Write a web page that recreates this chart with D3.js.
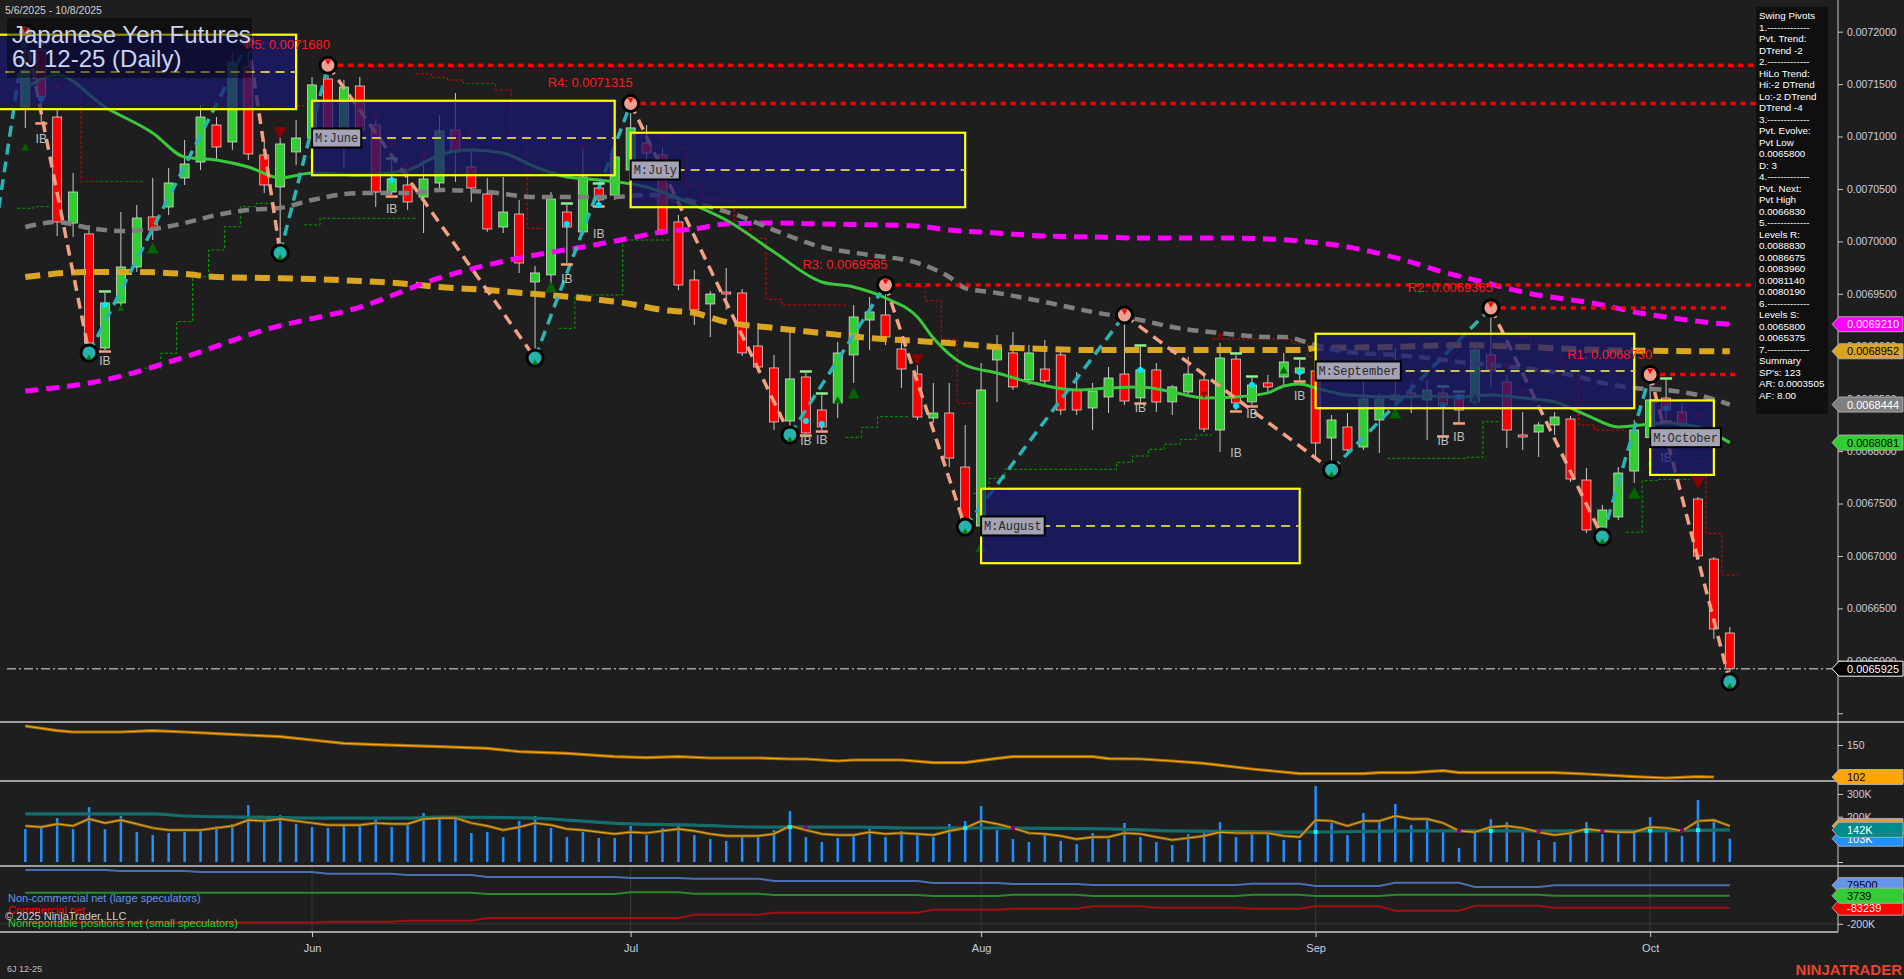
<!DOCTYPE html>
<html><head><meta charset="utf-8">
<script src="https://cdn.jsdelivr.net/npm/d3@7"></script>
<style>
html,body{margin:0;padding:0;background:#1e1e1e;overflow:hidden}
svg{display:block}
</style></head><body>
<svg id="chart" width="1904" height="979"></svg>
<script>
// ---------------- DATA ----------------
const dates = ['2025-05-06','2025-05-07','2025-05-08','2025-05-09',
'2025-05-12','2025-05-13','2025-05-14','2025-05-15','2025-05-16',
'2025-05-19','2025-05-20','2025-05-21','2025-05-22','2025-05-23',
'2025-05-27','2025-05-28','2025-05-29','2025-05-30',
'2025-06-02','2025-06-03','2025-06-04','2025-06-05','2025-06-06',
'2025-06-09','2025-06-10','2025-06-11','2025-06-12','2025-06-13',
'2025-06-16','2025-06-17','2025-06-18','2025-06-20',
'2025-06-23','2025-06-24','2025-06-25','2025-06-26','2025-06-27','2025-06-30',
'2025-07-01','2025-07-02','2025-07-03',
'2025-07-07','2025-07-08','2025-07-09','2025-07-10','2025-07-11',
'2025-07-14','2025-07-15','2025-07-16','2025-07-17','2025-07-18',
'2025-07-21','2025-07-22','2025-07-23','2025-07-24','2025-07-25',
'2025-07-28','2025-07-29','2025-07-30','2025-07-31',
'2025-08-01','2025-08-04','2025-08-05','2025-08-06','2025-08-07','2025-08-08',
'2025-08-11','2025-08-12','2025-08-13','2025-08-14','2025-08-15',
'2025-08-18','2025-08-19','2025-08-20','2025-08-21','2025-08-22',
'2025-08-25','2025-08-26','2025-08-27','2025-08-28','2025-08-29',
'2025-09-02','2025-09-03','2025-09-04','2025-09-05',
'2025-09-08','2025-09-09','2025-09-10','2025-09-11','2025-09-12',
'2025-09-15','2025-09-16','2025-09-17','2025-09-18','2025-09-19',
'2025-09-22','2025-09-23','2025-09-24','2025-09-25','2025-09-26',
'2025-09-29','2025-09-30',
'2025-10-01','2025-10-02','2025-10-03','2025-10-06','2025-10-07','2025-10-08'];

const opens = [0.0071282,0.0071825,0.0071186,0.0070175,0.0070071,0.0068983,0.0069413,0.0069756,0.0070233,0.0070328,
0.0070605,0.0070757,0.0071110,0.0070948,0.0071663,0.0070824,0.0070519,0.0070853,0.0070986,0.0071549,
0.0070996,0.0071482,0.0071110,0.0070471,0.0070538,0.0070423,0.0070557,0.0071062,0.0070710,0.0070452,
0.0070137,0.0070261,0.0069613,0.0069680,0.0070280,0.0070090,0.0070509,0.0070442,0.0070681,0.0070938,
0.0070824,0.0070185,0.0069632,0.0069403,0.0069517,0.0069508,0.0069002,0.0068793,0.0068287,0.0068707,
0.0068392,0.0068459,0.0068917,0.0069250,0.0069298,0.0068974,0.0068735,0.0068316,0.0068363,0.0067848,
0.0067286,0.0068869,0.0068936,0.0068679,0.0068783,0.0068917,0.0068583,0.0068411,0.0068516,0.0068735,
0.0068507,0.0068774,0.0068469,0.0068564,0.0068678,0.0068201,0.0068878,0.0068469,0.0068650,0.0068707,
0.0068745,0.0068764,0.0068125,0.0068230,0.0068039,0.0068297,0.0068488,0.0068554,0.0068488,0.0068554,
0.0068535,0.0068469,0.0068917,0.0068659,0.0068154,0.0068182,0.0068249,0.0068306,0.0067724,0.0067276,
0.0067372,0.0067810,0.0068128,0.0068506,0.0068373,0.0067543,0.0066971,0.0066265];

const highs = [0.0071987,0.0071873,0.0071272,0.0070652,0.0070157,0.0069508,0.0070280,0.0070347,0.0070605,0.0070700,
0.0070967,0.0071301,0.0071186,0.0071806,0.0071902,0.0070967,0.0071034,0.0071158,0.0071568,0.0071680,
0.0071539,0.0071568,0.0071186,0.0070776,0.0070681,0.0070776,0.0071205,0.0071415,0.0070872,0.0070605,
0.0070614,0.0070395,0.0069766,0.0070471,0.0070347,0.0070900,0.0070538,0.0070967,0.0071315,0.0071110,
0.0070891,0.0070252,0.0069727,0.0069527,0.0069746,0.0069546,0.0069222,0.0068917,0.0069155,0.0068745,
0.0068535,0.0069041,0.0069393,0.0069470,0.0069585,0.0069060,0.0068821,0.0068650,0.0068650,0.0068249,
0.0068840,0.0069107,0.0069136,0.0069012,0.0069060,0.0068993,0.0068755,0.0068650,0.0068802,0.0069298,
0.0068993,0.0068840,0.0068630,0.0068898,0.0068726,0.0069031,0.0068917,0.0068697,0.0068726,0.0068936,
0.0068869,0.0068850,0.0068344,0.0068363,0.0068678,0.0068554,0.0068984,0.0068650,0.0068678,0.0068602,
0.0068554,0.0068984,0.0069365,0.0068726,0.0068373,0.0068278,0.0068373,0.0068335,0.0067839,0.0067486,
0.0067848,0.0068297,0.0068730,0.0068678,0.0068459,0.0067562,0.0066990,0.0066323];

const lows = [0.0071081,0.0071139,0.0070051,0.0070042,0.0068936,0.0068964,0.0069346,0.0069708,0.0070013,0.0070252,
0.0070538,0.0070681,0.0070776,0.0070872,0.0070776,0.0070461,0.0069889,0.0070729,0.0070919,0.0070872,
0.0070700,0.0070967,0.0070328,0.0070442,0.0070300,0.0070080,0.0070509,0.0070567,0.0070376,0.0070090,
0.0070080,0.0069699,0.0068888,0.0069584,0.0069794,0.0070061,0.0070347,0.0070395,0.0070640,0.0070776,
0.0070061,0.0069536,0.0069203,0.0069088,0.0069346,0.0068907,0.0068755,0.0068201,0.0068154,0.0068163,
0.0068201,0.0068316,0.0068650,0.0068964,0.0069012,0.0068602,0.0068297,0.0068268,0.0067848,0.0067276,
0.0067280,0.0068468,0.0068583,0.0068631,0.0068631,0.0068344,0.0068344,0.0068201,0.0068363,0.0068440,
0.0068468,0.0068373,0.0068344,0.0068535,0.0068182,0.0067991,0.0068392,0.0068440,0.0068564,0.0068631,
0.0068678,0.0067915,0.0067820,0.0067963,0.0068011,0.0067982,0.0068440,0.0068363,0.0068106,0.0068154,
0.0068278,0.0068440,0.0068612,0.0068030,0.0068011,0.0067944,0.0068154,0.0067705,0.0067219,0.0067181,
0.0067343,0.0067696,0.0068100,0.0068297,0.0068134,0.0066962,0.0066208,0.0065800];

const closes = [0.0071635,0.0071377,0.0070185,0.0070471,0.0069031,0.0069413,0.0069756,0.0070223,0.0070108,0.0070557,
0.0070738,0.0071186,0.0070900,0.0071711,0.0070834,0.0070538,0.0070929,0.0070986,0.0071492,0.0070938,
0.0071472,0.0071062,0.0070471,0.0070595,0.0070376,0.0070595,0.0071053,0.0070853,0.0070509,0.0070118,
0.0070280,0.0069794,0.0069699,0.0070404,0.0070137,0.0070614,0.0070395,0.0070805,0.0071082,0.0070843,
0.0070108,0.0069584,0.0069346,0.0069498,0.0069498,0.0068936,0.0068802,0.0068278,0.0068688,0.0068173,
0.0068230,0.0068936,0.0069279,0.0069327,0.0069088,0.0068783,0.0068325,0.0068363,0.0067934,0.0067314,
0.0068583,0.0068993,0.0068612,0.0068936,0.0068669,0.0068392,0.0068392,0.0068573,0.0068697,0.0068478,
0.0068774,0.0068468,0.0068612,0.0068735,0.0068211,0.0068888,0.0068459,0.0068630,0.0068612,0.0068850,
0.0068793,0.0068077,0.0068297,0.0068011,0.0068497,0.0068497,0.0068535,0.0068516,0.0068583,0.0068440,
0.0068392,0.0068964,0.0068774,0.0068201,0.0068135,0.0068249,0.0068325,0.0067734,0.0067248,0.0067438,
0.0067791,0.0068201,0.0068488,0.0068392,0.0068249,0.0067000,0.0066304,0.0065925];

// moving averages: [bar index, price]
const maGreen = [[0,0.0071463],[2,0.0071587],[5,0.0071282],[8,0.0071034],[10,0.0070805],[12,0.0070776],[14,0.0070710],[16,0.0070605],[18,0.0070652],[21,0.0070633],[24,0.0070681],[26,0.0070824],[28,0.0070872],[30,0.0070843],[32,0.0070710],[34,0.0070614],[36,0.0070586],[39,0.0070519],[42,0.0070347],[44,0.0070204],[47,0.0069899],[50,0.0069613],[52,0.0069565],[54,0.0069460],[56,0.0069279],[57,0.0069079],[59,0.0068821],[61,0.0068745],[63,0.0068659],[66,0.0068583],[68,0.0068602],[70,0.0068612],[72,0.0068564],[74,0.0068507],[76,0.0068517],[78,0.0068555],[79,0.0068621],[80,0.0068640],[81,0.0068602],[83,0.0068535],[86,0.0068517],[88,0.0068526],[90,0.0068517],[92,0.0068535],[94,0.0068507],[96,0.0068469],[98,0.0068344],[100,0.0068230],[102,0.0068259],[103,0.0068269],[105,0.0068230],[107,0.0068081]];
const maGray = [[0,0.0070137],[2,0.0070185],[4,0.0070128],[6,0.0070099],[8,0.0070118],[10,0.0070175],[12,0.0070252],[14,0.0070300],[16,0.0070319],[18,0.0070395],[21,0.0070461],[24,0.0070461],[26,0.0070490],[29,0.0070471],[32,0.0070423],[35,0.0070423],[37,0.0070423],[39,0.0070442],[41,0.0070414],[43,0.0070328],[45,0.0070233],[47,0.0070108],[50,0.0069946],[53,0.0069870],[56,0.0069794],[58,0.0069660],[59,0.0069555],[61,0.0069508],[64,0.0069422],[67,0.0069327],[70,0.0069250],[72,0.0069183],[75,0.0069126],[78,0.0069088],[79,0.0069088],[81,0.0069012],[83,0.0068945],[86,0.0068917],[88,0.0068888],[90,0.0068850],[92,0.0068821],[94,0.0068792],[97,0.0068726],[99,0.0068650],[101,0.0068602],[103,0.0068583],[105,0.0068535],[107,0.0068444]];
const maGold = [[0,0.0069660],[4,0.0069708],[7,0.0069708],[10,0.0069689],[12,0.0069660],[15,0.0069651],[18,0.0069641],[21,0.0069622],[24,0.0069594],[26,0.0069565],[29,0.0069536],[32,0.0069498],[35,0.0069460],[38,0.0069403],[40,0.0069346],[42,0.0069317],[44,0.0069231],[47,0.0069174],[50,0.0069126],[53,0.0069079],[56,0.0069050],[58,0.0069031],[61,0.0068993],[64,0.0068974],[67,0.0068964],[72,0.0068964],[80,0.0068964],[81,0.0068983],[86,0.0068993],[90,0.0069012],[94,0.0068993],[99,0.0068964],[103,0.0068955],[107,0.0068952]];
const maMagenta = [[0,0.0068573],[5,0.0068678],[10,0.0068897],[15,0.0069155],[21,0.0069374],[26,0.0069651],[29,0.0069775],[32,0.0069870],[35,0.0069946],[38,0.0070032],[40,0.0070090],[42,0.0070118],[44,0.0070166],[47,0.0070175],[50,0.0070166],[56,0.0070147],[58,0.0070108],[61,0.0070080],[64,0.0070051],[67,0.0070042],[70,0.0070032],[75,0.0070032],[78,0.0070023],[80,0.0070004],[84,0.0069918],[87,0.0069803],[89,0.0069708],[91,0.0069632],[94,0.0069517],[99,0.0069393],[101,0.0069327],[103,0.0069279],[106,0.0069222],[107,0.0069210]];

// trailing stop steps: [bar index, price]
const stopRed = [
 [[3,0.0071475],[4,0.0070570],[5,0.0070570],[6,0.0070570],[7,0.0070570]],
 [[16,0.0071294],[17,0.0071294]],
 [[25,0.0071597],[26,0.0071565],[27,0.0071539],[28,0.0071507],[29,0.0071507],[30,0.0071444],[31,0.0071000],[32,0.0070125]],
 [[41,0.0070894],[42,0.0070538],[43,0.0070411],[44,0.0070395],[45,0.0070188],[46,0.0070029],[47,0.0069448],[48,0.0069393],[49,0.0069393],[50,0.0069393],[51,0.0069393]],
 [[56,0.0069568],[57,0.0069434],[58,0.0069069],[59,0.0068456]],
 [[75,0.0069070],[76,0.0069070],[77,0.0069070],[78,0.0069070],[79,0.0069070],[80,0.0069028],[81,0.0068900]],
 [[94,0.0069091],[95,0.0069012],[96,0.0068900],[97,0.0068726],[98,0.0068249],[99,0.0068201],[100,0.0068201]],
 [[105,0.0067899],[106,0.0067216],[107,0.0066818]]
];
const stopGreen = [
 [[0,0.0070316],[1,0.0070331]],
 [[8,0.0068790],[9,0.0068933],[10,0.0069235],[11,0.0069663],[12,0.0069918],[13,0.0070140],[14,0.0070331],[15,0.0070363]],
 [[18,0.0070157],[19,0.0070220],[20,0.0070220],[21,0.0070220],[22,0.0070220],[23,0.0070220],[24,0.0070220]],
 [[34,0.0069171],[35,0.0069489],[36,0.0069489],[37,0.0069489],[38,0.0070013],[39,0.0070013],[40,0.0070013]],
 [[52,0.0068131],[53,0.0068227],[54,0.0068328],[55,0.0068328]],
 [[60,0.0067598],[61,0.0067740],[62,0.0067826],[63,0.0067826],[64,0.0067826],[65,0.0067826],[66,0.0067826],[67,0.0067826],[68,0.0067826],[69,0.0067893],[70,0.0067953],[71,0.0068017],[72,0.0068065],[73,0.0068112],[74,0.0068154]],
 [[86,0.0067931],[87,0.0067931],[88,0.0067931],[89,0.0067931],[90,0.0067931],[91,0.0067941],[92,0.0068280]],
 [[101,0.0067226],[102,0.0067718],[103,0.0067731],[104,0.0067731]]
];

// swing pivots [bar index, price] (alternating low/high)
const pivots = [[-2,0.0069980],[0,0.0071987],[4,0.0068936],[14,0.0071902],[16,0.0069889],[19,0.0071680],[32,0.0068888],[38,0.0071315],[48,0.0068154],[54,0.0069585],[59,0.0067276],[69,0.0069298],[82,0.0067820],[92,0.0069365],[99,0.0067181],[102,0.0068730],[107,0.0065800]];

// resistance levels
const resNames = ['R5','R4','R3','R2','R1'];
const resValues = [0.0071680,0.0071315,0.0069585,0.0069365,0.0068730];
const resFrom = [19,38,54,92,102];
const resTo = [111.4,111.4,111.4,107,107.6];

// monthly boxes
const boxMonths = ['M:May','M:June','M:July','M:August','M:September','M:October'];
const boxStart = [-5,18,38,60,81,102];
const boxEnd = [17,37,59,80,101,106];
const boxHigh = [0.0071971,0.0071341,0.0071036,0.0067641,0.0069119,0.0068483];
const boxMid  = [0.0071616,0.0070986,0.0070681,0.0067286,0.0068764,0.0068128];
const boxLow  = [0.0071261,0.0070631,0.0070326,0.0066931,0.0068409,0.0067773];

// markers: [bar index, price, size]
const sellSignals = [[2,0.0071463,8],[12,0.0071606,7],[16,0.0071034,13],[22,0.0071177,7],[23,0.0070919,7],[24,0.0070710,9],[25,0.0070805,9],[28,0.0071034,7],[35,0.0070891,7],[40,0.0070986,7],[56,0.0068869,13],[74,0.0068535,7],[75,0.0069088,7],[93,0.0068802,8],[94,0.0068564,7],[105,0.0068325,7],[105,0.0067696,14]];
const buySignals = [[0,0.0070900,8],[6,0.0069365,7],[8,0.0069937,12],[18,0.0070824,7],[33,0.0069565,12],[51,0.0068488,8],[52,0.0068554,12],[60,0.0067086,12],[79,0.0068774,8],[86,0.0068363,12],[91,0.0068507,8],[101,0.0067601,13],[102,0.0067896,7]];
const insideBars = [[1,0.0070986],[5,0.0068869],[23,0.0070318],[34,0.0069651],[36,0.0070080],[49,0.0068106],[50,0.0068115],[70,0.0068421],[76,0.0067991],[77,0.0068363],[80,0.0068535],[89,0.0068106],[90,0.0068144],[103,0.0067944]];
const insideDots = [[1,0.0071358],[5,0.0069393],[23,0.0070586],[34,0.0070166],[36,0.0070347],[49,0.0068287],[50,0.0068258],[70,0.0068774],[76,0.0068430],[77,0.0068630],[80,0.0068755],[89,0.0068440],[90,0.0068516],[103,0.0068411]];

const lastPrice = 0.0065925;
const priceTickValues = [0.0072,0.00715,0.0071,0.00705,0.007,0.00695,0.0069,0.00685,0.0068,0.00675,0.0067,0.00665,0.0066];

// panel 2 (trend strength line)
const strength = [[0,178.5],[2,171.5],[3,169.5],[6,169.5],[8,171.5],[10,169.5],[13,166],[16,162.5],[18,157.5],[20,152.5],[22,150.5],[26,147.5],[29,145],[31,140],[34,137.5],[37,132.5],[39,131],[41,132.5],[43,130.5],[46,130.5],[48,129],[49,129],[51,126],[52,127.5],[55,127.5],[57,123.5],[59,123.5],[61,130],[62,132.5],[67,132.5],[68,129.5],[70,129],[72,126],[74,122.5],[77,114],[80,107],[84,107],[85,108.5],[87,108.5],[89,111.5],[90,108.5],[96,108.5],[98,106.5],[101,102.5],[103,100.5],[105,102.5],[106,102]];

// panel 3 volume (thousands of contracts)
const volume = [145,156,194,145,242,145,203,132,119,128,132,141,159,168,251,178,207,168,154,150,
163,163,198,154,168,216,203,198,128,132,110,181,203,150,110,132,106,106,159,119,
150,159,119,101,93,115,115,141,225,110,88,106,123,159,110,137,119,110,168,181,
247,141,101,88,119,93,79,128,101,172,110,88,75,123,128,176,110,132,128,97,97,335,
172,119,216,181,256,163,185,132,62,128,189,176,132,97,88,145,176,123,123,132,
198,132,115,273,181,103];
const volumeFast = [159,154,168,159,190,172,185,168,150,141,141,141,150,159,185,181,190,181,172,163,
163,163,172,168,168,190,194,194,172,159,141,154,172,163,146,141,132,124,132,128,
137,146,137,124,115,115,115,124,159,141,124,119,119,132,124,128,124,119,137,150,
181,168,150,128,124,115,101,110,110,128,124,110,97,106,115,132,128,128,128,115,110,185,
181,159,181,181,203,190,190,172,137,132,154,159,150,132,119,128,146,137,132,132,
154,150,137,181,185,159];
const volumeSlow = [[0,212],[8,212],[10,203],[14,198],[18,194],[24,194],[26,198],[32,194],[34,185],[38,168],[42,163],[46,154],[52,154],[56,150],[61,150],[68,146],[72,137],[80,132],[87,137],[93,137],[100,137],[107,142]];
const volUpIdx = [48,59,81,92,98,102,105];
const volDownIdx = [49,62,90,95,99,104];

// panel 4 COT nets (weekly changes: [first bar index, contracts])
const cotNonCommercial = [[0,190000],[6,183000],[11,175000],[19,163000],[24,154000],[29,139000],[38,132000],[42,127000],[47,110000],[57,96000],[62,88000],[67,81000],[77,91000],[81,74000],[86,98000],[91,67000],[96,79500]];
const cotCommercial = [[0,-190000],[19,-185000],[24,-177000],[29,-158000],[42,-134000],[47,-120000],[57,-98000],[62,-91000],[67,-73000],[71,-83000],[77,-91000],[81,-73000],[86,-105000],[91,-69000],[96,-83239]];
const cotNonReportable = [[0,25000],[29,16000],[38,28000],[42,18000],[47,9000],[57,1400],[62,11000],[67,1400],[77,11000],[81,1400],[86,11000],[96,3739]];

const infoLines = ['Swing Pivots','1.-------------','Pvt. Trend:','DTrend -2','2.-------------','HiLo Trend:','Hi:-2 DTrend','Lo:-2 DTrend','DTrend -4','3.-------------','Pvt. Evolve:','Pvt Low','0.0065800','D: 3','4.-------------','Pvt. Next:','Pvt High','0.0066830','5.-------------','Levels R:','0.0088830','0.0086675','0.0083960','0.0081140','0.0080190','6.-------------','Levels S:','0.0065800','0.0065375','7.-------------','Summary',"SP's: 123",'AR: 0.0003505','AF: 8.00'];

// ---------------- DRAWING ----------------
const W = 1904, H = 979, AX = 1838;
const SANS = "'Liberation Sans', Arial, Helvetica, sans-serif";
const svg = d3.select('#chart');
svg.append('rect').attr('width',W).attr('height',H).attr('fill','#1e1e1e');

const x = d3.scaleLinear().domain([0,107]).range([25.3,1729.8]);
const yP = d3.scaleLinear().domain([0.0065426,0.0072302]).range([721,0]);
const y2 = d3.scaleLinear().domain([96,184.5]).range([781,722]);
const y3 = d3.scaleLinear().domain([0,300]).range([862,794]);
const y4 = d3.scaleLinear().domain([-200000,0]).range([923.8,896.2]);

const defs = svg.append('defs');
function clip(id,x0,y0,w,h){defs.append('clipPath').attr('id',id).append('rect').attr('x',x0).attr('y',y0).attr('width',w).attr('height',h);}
clip('cp',0,0,AX,721); clip('c2',0,722,AX,59); clip('c3',0,781,AX,85); clip('c4',0,866,AX,66);

const gP = svg.append('g').attr('clip-path','url(#cp)');
const n = dates.length;

// trailing stops
const stepLine = d3.line().x(p=>x(p[0])).y(p=>yP(p[1]));
function stepPts(seg){const pts=[];seg.forEach(d=>{pts.push([d[0]-0.5,d[1]]);pts.push([d[0]+0.5,d[1]]);});return pts;}
stopRed.forEach(s=>gP.append('path').attr('d',stepLine(stepPts(s))).attr('fill','none').attr('stroke','#e00000').attr('stroke-width',1).attr('stroke-dasharray','3,2'));
stopGreen.forEach(s=>gP.append('path').attr('d',stepLine(stepPts(s))).attr('fill','none').attr('stroke','#00a000').attr('stroke-width',1).attr('stroke-dasharray','3,2'));

// candles
const cg = gP.append('g');
for(let i=0;i<n;i++){
  const up = closes[i] >= opens[i];
  cg.append('line').attr('x1',x(i)).attr('x2',x(i)).attr('y1',yP(highs[i])).attr('y2',yP(lows[i]))
    .attr('stroke','#c8c8c8').attr('stroke-width',1);
  const yt = yP(Math.max(opens[i],closes[i])), yb = yP(Math.min(opens[i],closes[i]));
  cg.append('rect').attr('x',x(i)-4.5).attr('y',yt).attr('width',9).attr('height',Math.max(1.5,yb-yt))
    .attr('fill', up ? '#32cd32' : '#ff0000').attr('stroke','#d8d8d8').attr('stroke-width',0.8);
}

// moving averages
const maLine = d3.line().x(d=>x(d[0])).y(d=>yP(d[1])).curve(d3.curveMonotoneX);
gP.append('path').datum(maGold).attr('d',maLine).attr('fill','none').attr('stroke','#daa520').attr('stroke-width',6).attr('stroke-dasharray','15,8');
gP.append('path').datum(maMagenta).attr('d',maLine).attr('fill','none').attr('stroke','#ff00ff').attr('stroke-width',5).attr('stroke-dasharray','13,8');
gP.append('path').datum(maGray).attr('d',maLine).attr('fill','none').attr('stroke','#7f7f7f').attr('stroke-width',4.5).attr('stroke-dasharray','11,7');
gP.append('path').datum(maGreen).attr('d',maLine).attr('fill','none').attr('stroke','#3cc83c').attr('stroke-width',3);

// zigzag
for(let k=1;k<pivots.length;k++){
  const a=pivots[k-1], b=pivots[k];
  const upLeg = b[1] > a[1];
  gP.append('line').attr('x1',x(a[0])).attr('y1',yP(a[1])).attr('x2',x(b[0])).attr('y2',yP(b[1]))
    .attr('stroke', upLeg ? '#2ab4b4' : '#f2a182').attr('stroke-width',3.5).attr('stroke-dasharray','11,7');
}

// resistance lines
for(let k=0;k<resNames.length;k++){
  const yy = yP(resValues[k]);
  gP.append('line').attr('x1',x(resFrom[k])).attr('x2',x(resTo[k])).attr('y1',yy).attr('y2',yy)
    .attr('stroke','#ff0000').attr('stroke-width',3.5).attr('stroke-dasharray','5,5');
}

// signals
function tri(cx,cy,w,down){
  const h=w*0.9;
  return down ? `M${cx-w/2},${cy-h/2}L${cx+w/2},${cy-h/2}L${cx},${cy+h/2}Z`
              : `M${cx-w/2},${cy+h/2}L${cx+w/2},${cy+h/2}L${cx},${cy-h/2}Z`;
}
sellSignals.forEach(d=>gP.append('path').attr('d',tri(x(d[0]),yP(d[1]),d[2],true)).attr('fill','#8b0000'));
buySignals.forEach(d=>gP.append('path').attr('d',tri(x(d[0]),yP(d[1]),d[2],false)).attr('fill','#006400'));
insideBars.forEach(d=>{
  const i=d[0];
  gP.append('line').attr('x1',x(i)-6).attr('x2',x(i)+6).attr('y1',yP(highs[i])-1.5).attr('y2',yP(highs[i])-1.5).attr('stroke','#90ee90').attr('stroke-width',2.5);
  gP.append('line').attr('x1',x(i)-6).attr('x2',x(i)+6).attr('y1',yP(lows[i])+1.5).attr('y2',yP(lows[i])+1.5).attr('stroke','#ffa07a').attr('stroke-width',2.5);
});
insideDots.forEach(d=>gP.append('circle').attr('cx',x(d[0])).attr('cy',yP(d[1])).attr('r',3).attr('fill','#00e5ff'));
insideBars.forEach(d=>gP.append('text').attr('x',x(d[0])).attr('y',yP(d[1])+5).attr('text-anchor','middle')
  .attr('fill','#c0c0c0').attr('font-family',SANS).attr('font-size',12).text('IB'));

// pivot circles
for(let k=1;k<pivots.length;k++){
  const p=pivots[k], isHigh = p[1] > pivots[k-1][1];
  const cx=x(p[0]), cy=yP(p[1]);
  gP.append('circle').attr('cx',cx).attr('cy',cy).attr('r',8).attr('fill', isHigh ? '#f0a090' : '#26b3ae')
    .attr('stroke','#000').attr('stroke-width',3);
  gP.append('path').attr('d', isHigh ? tri(cx,cy-3,6,true) : tri(cx,cy+4,6,false))
    .attr('fill', isHigh ? '#ff0000' : '#008000');
}

// month boxes
for(let k=0;k<boxMonths.length;k++){
  const x0=x(boxStart[k]), x1=x(boxEnd[k]), yt=yP(boxHigh[k]), yb=yP(boxLow[k]), ym=yP(boxMid[k]);
  gP.append('rect').attr('x',x0).attr('y',yt).attr('width',x1-x0).attr('height',yb-yt)
    .attr('fill','#191970').attr('fill-opacity',0.75).attr('stroke','#ffff00').attr('stroke-width',2.2);
  gP.append('line').attr('x1',x0).attr('x2',x1).attr('y1',ym).attr('y2',ym)
    .attr('stroke','#c8c24a').attr('stroke-width',2).attr('stroke-dasharray','9,6');
}
for(let k=0;k<boxMonths.length;k++){
  const x0=x(boxStart[k]), ym=yP(boxMid[k]);
  if(x0 < 0) continue; // label lies left of the visible range
  const w = boxMonths[k].length*7.2+6;
  gP.append('rect').attr('x',x0).attr('y',ym-9.5).attr('width',w).attr('height',19)
    .attr('fill','#a4a4b6').attr('stroke','#000').attr('stroke-width',2);
  gP.append('text').attr('x',x0+3).attr('y',ym+4.5).attr('fill','#2a2a2a')
    .attr('font-family',"'Liberation Mono','DejaVu Sans Mono',monospace").attr('font-size',12).text(boxMonths[k]);
}

// resistance labels
for(let k=0;k<resNames.length;k++){
  const yy = yP(resValues[k]);
  gP.append('text').attr('x',x(resFrom[k])+2).attr('y',yy-16).attr('text-anchor','end')
    .attr('fill','#ff1a1a').attr('font-family',SANS).attr('font-size',13)
    .attr('textLength',85).attr('lengthAdjust','spacingAndGlyphs')
    .text(resNames[k]+': '+resValues[k].toFixed(7));
}

// last price line
const yl = yP(lastPrice);
svg.append('line').attr('x1',7).attr('x2',AX).attr('y1',yl).attr('y2',yl)
  .attr('stroke','#a0a0a0').attr('stroke-width',1.4).attr('stroke-dasharray','9,3,2,3');

// title
svg.append('rect').attr('x',7).attr('y',18).attr('width',245).attr('height',60).attr('fill','#000').attr('fill-opacity',0.45);
svg.append('text').attr('x',12).attr('y',43).attr('fill','#cdd3f2').attr('font-family',SANS).attr('font-size',24).text('Japanese Yen Futures');
svg.append('text').attr('x',12).attr('y',67).attr('fill','#cdd3f2').attr('font-family',SANS).attr('font-size',24).text('6J 12-25 (Daily)');
svg.append('text').attr('x',5).attr('y',14).attr('fill','#d0d0d0').attr('font-family',SANS).attr('font-size',10.5).text('5/6/2025 - 10/8/2025');

// info panel
svg.append('rect').attr('x',1756).attr('y',7).attr('width',72).attr('height',407).attr('fill','#0f0f0f');
infoLines.forEach((t,k)=>svg.append('text').attr('x',1759).attr('y',19+k*11.5).attr('fill','#ffffff')
  .attr('font-family',SANS).attr('font-size',9.8).text(t));

// ---------- lower panels ----------
// panel 2
const g2 = svg.append('g').attr('clip-path','url(#c2)');
const l2 = d3.line().x(d=>x(d[0])).y(d=>y2(d[1]));
g2.append('path').datum(strength).attr('d',l2).attr('fill','none').attr('stroke','#9a6a10').attr('stroke-width',3.2);
g2.append('path').datum(strength).attr('d',l2).attr('fill','none').attr('stroke','#ffa500').attr('stroke-width',1.2);

// panel 3
const g3 = svg.append('g').attr('clip-path','url(#c3)');
volume.forEach((v,i)=>g3.append('rect').attr('x',x(i)-1.25).attr('y',y3(v)).attr('width',2.5).attr('height',y3(0)-y3(v)).attr('fill','#1e90ff'));
g3.append('path').datum(volumeSlow).attr('d',d3.line().x(d=>x(d[0])).y(d=>y3(d[1])).curve(d3.curveMonotoneX))
  .attr('fill','none').attr('stroke','#146e6e').attr('stroke-width',3.2);
const lf = d3.line().x((d,i)=>x(i)).y(d=>y3(d));
g3.append('path').datum(volumeFast).attr('d',lf).attr('fill','none').attr('stroke','#7a5a10').attr('stroke-width',3);
g3.append('path').datum(volumeFast).attr('d',lf).attr('fill','none').attr('stroke','#e0a020').attr('stroke-width',1.2);
function slowAt(i){for(let k=1;k<volumeSlow.length;k++){const a=volumeSlow[k-1],b=volumeSlow[k];if(i<=b[0]){return a[1]+(b[1]-a[1])*(i-a[0])/(b[0]-a[0]);}}return volumeSlow[volumeSlow.length-1][1];}
volUpIdx.forEach(i=>g3.append('rect').attr('x',x(i)-2).attr('y',y3(slowAt(i))-2).attr('width',4).attr('height',4).attr('fill','#00ffff'));
volDownIdx.forEach(i=>g3.append('rect').attr('x',x(i)-2).attr('y',y3(slowAt(i))-2).attr('width',4).attr('height',4).attr('fill','#800080'));

// panel 4
const g4 = svg.append('g').attr('clip-path','url(#c4)');
const monthTicks = [];
for(let i=1;i<n;i++){ if(dates[i].slice(5,7)!==dates[i-1].slice(5,7)) monthTicks.push(i); }
monthTicks.forEach(i=>g4.append('line').attr('x1',x(i)).attr('x2',x(i)).attr('y1',866).attr('y2',932).attr('stroke','#383838'));
g4.append('line').attr('x1',0).attr('x2',AX).attr('y1',y4(-200000)).attr('y2',y4(-200000)).attr('stroke','#383838');
function cotPts(a){const pts=[[a[0][0],a[0][1]]];for(let k=1;k<a.length;k++){pts.push([a[k][0]-1,a[k-1][1]]);pts.push([a[k][0],a[k][1]]);}pts.push([n-1,a[a.length-1][1]]);return pts;}
const l4 = d3.line().x(d=>x(d[0])).y(d=>y4(d[1]));
g4.append('path').datum(cotPts(cotNonCommercial)).attr('d',l4).attr('fill','none').attr('stroke','#4a6fb5').attr('stroke-width',2);
g4.append('path').datum(cotPts(cotNonReportable)).attr('d',l4).attr('fill','none').attr('stroke','#2a8a2a').attr('stroke-width',2);
g4.append('path').datum(cotPts(cotCommercial)).attr('d',l4).attr('fill','none').attr('stroke','#a01010').attr('stroke-width',2);
svg.append('text').attr('x',8).attr('y',902).attr('fill','#6495ed').attr('font-family',SANS).attr('font-size',11).text('Non-commercial net (large speculators)');
svg.append('text').attr('x',8).attr('y',914).attr('fill','#ff0000').attr('font-family',SANS).attr('font-size',11).text('Commercial net');
svg.append('text').attr('x',8).attr('y',927).attr('fill','#32cd32').attr('font-family',SANS).attr('font-size',11).text('Nonreportable positions net (small speculators)');
svg.append('text').attr('x',5).attr('y',920).attr('fill','#d0d0d0').attr('font-family',SANS).attr('font-size',11).text('© 2025 NinjaTrader, LLC');

// separators
[722,781,866].forEach(yy=>svg.append('line').attr('x1',0).attr('x2',W).attr('y1',yy).attr('y2',yy).attr('stroke','#c8c8c8').attr('stroke-width',1.5));
svg.append('line').attr('x1',0).attr('x2',AX).attr('y1',932).attr('y2',932).attr('stroke','#c8c8c8').attr('stroke-width',1.5);
svg.append('line').attr('x1',AX).attr('x2',AX).attr('y1',0).attr('y2',932).attr('stroke','#c8c8c8').attr('stroke-width',1);

// axes
function styleAxis(g){
  g.select('.domain').remove();
  g.selectAll('line').attr('stroke','#c8c8c8');
  g.selectAll('text').attr('fill','#c8d0e0').attr('font-family',SANS).attr('font-size',10.5);
}
svg.append('g').attr('transform',`translate(${AX},0)`).call(d3.axisRight(yP).tickValues(priceTickValues).tickFormat(d3.format('.7f')).tickSize(5).tickPadding(4)).call(styleAxis);
svg.append('g').attr('transform',`translate(${AX},0)`).call(d3.axisRight(yP).tickValues([0.00655]).tickFormat('').tickSize(5)).call(styleAxis);
svg.append('g').attr('transform',`translate(${AX},0)`).call(d3.axisRight(y2).tickValues([150,100]).tickSize(5).tickPadding(4)).call(styleAxis);
svg.append('g').attr('transform',`translate(${AX},0)`).call(d3.axisRight(y3).tickValues([0,100,200,300]).tickFormat(d=>d?d+'K':'').tickSize(5).tickPadding(4)).call(styleAxis);
svg.append('g').attr('transform',`translate(${AX},0)`).call(d3.axisRight(y4).tickValues([-200000,-100000,0]).tickFormat(d=>d/1000+'K').tickSize(5).tickPadding(4)).call(styleAxis);

// x axis
const monthNames = ['Jan','Feb','Mar','Apr','May','Jun','Jul','Aug','Sep','Oct','Nov','Dec'];
const xa = svg.append('g').attr('transform','translate(0,932)')
  .call(d3.axisBottom(x).tickValues(monthTicks).tickFormat(i=>monthNames[+dates[i].slice(5,7)-1]).tickSize(5).tickPadding(7));
xa.select('.domain').remove();
xa.selectAll('line').attr('stroke','#c8c8c8');
xa.selectAll('text').attr('fill','#c8d0e0').attr('font-family',SANS).attr('font-size',11);

// flags
function flag(yv,text,fill,tcol,stroke){
  svg.append('path').attr('d',`M${AX-6},${yv}L${AX+1},${yv-7.5}L1903,${yv-7.5}L1903,${yv+7.5}L${AX+1},${yv+7.5}Z`)
    .attr('fill',fill).attr('stroke',stroke||'#aaaaaa').attr('stroke-width',1);
  svg.append('text').attr('x',AX+9).attr('y',yv+4).attr('fill',tcol).attr('font-family',SANS).attr('font-size',11).text(text);
}
const pf = d3.format('.7f');
const last = a => a[a.length-1][1];
flag(yP(last(maMagenta)),pf(last(maMagenta)),'#ff00ff','#ffffff');
flag(yP(last(maGold)),pf(last(maGold)),'#daa520','#000000');
flag(yP(last(maGray)),pf(last(maGray)),'#808080','#ffffff');
flag(yP(last(maGreen)),pf(last(maGreen)),'#32cd32','#000000');
flag(yP(lastPrice),pf(lastPrice),'#000000','#ffffff','#ffffff');
flag(y2(last(strength)),String(Math.floor(last(strength))),'#ffa500','#000000');
flag(y3(volume[n-1]),volume[n-1]+'K','#1e90ff','#ffffff');
flag(y3(volumeFast[n-1]),volumeFast[n-1]+'K','#daa520','#000000');
flag(y3(last(volumeSlow)),last(volumeSlow)+'K','#008b8b','#ffffff');
flag(y4(last(cotNonCommercial)),String(last(cotNonCommercial)),'#6495ed','#000000');
flag(y4(last(cotCommercial)),String(last(cotCommercial)),'#ff0000','#ffffff');
flag(y4(last(cotNonReportable)),String(last(cotNonReportable)),'#32cd32','#000000');

// footer
svg.append('text').attr('x',7).attr('y',972).attr('fill','#c0c0c0').attr('font-family',SANS).attr('font-size',9).text('6J 12-25');
svg.append('text').attr('x',1902).attr('y',975).attr('text-anchor','end').attr('fill','#e8452c').attr('font-family',SANS)
  .attr('font-weight','bold').attr('font-size',15).text('NINJATRADER');
</script>
</body></html>
